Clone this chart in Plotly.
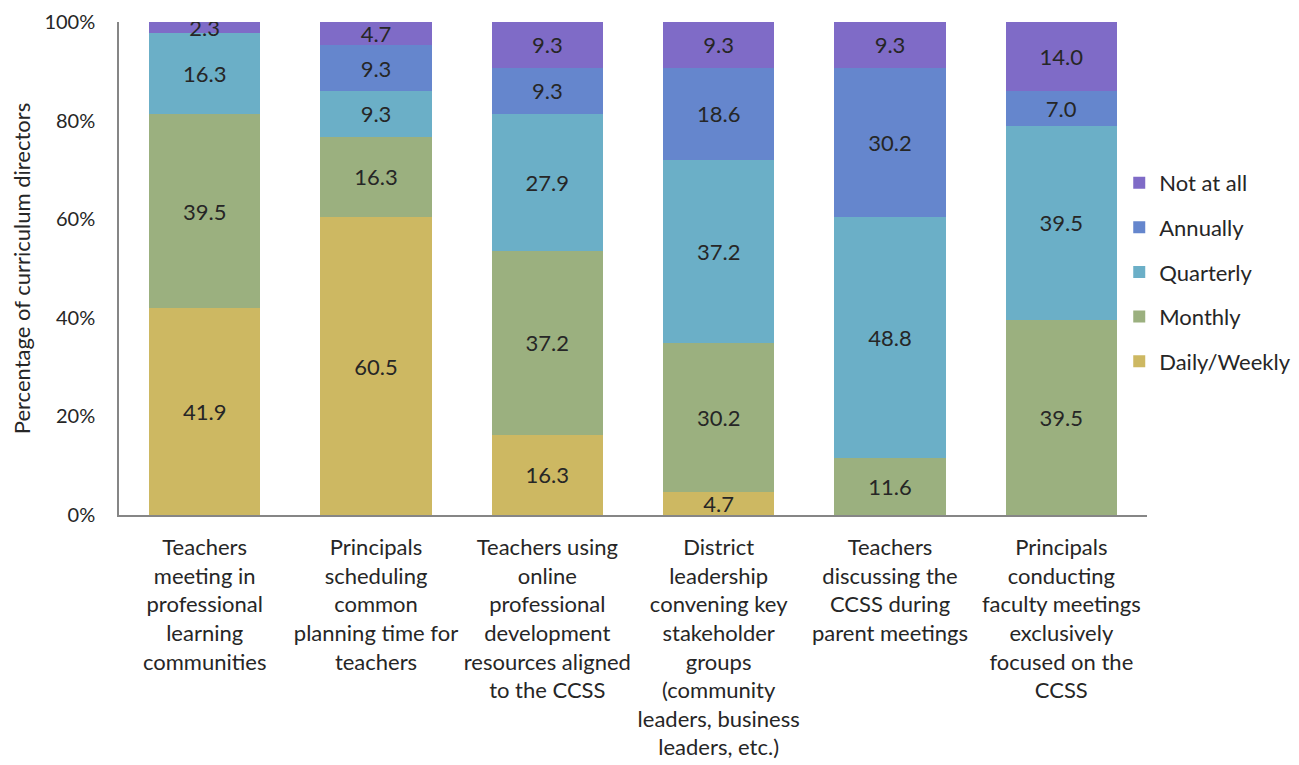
import plotly.graph_objects as go

categories = [
    "Teachers<br>meeting in<br>professional<br>learning<br>communities",
    "Principals<br>scheduling<br>common<br>planning time for<br>teachers",
    "Teachers using<br>online<br>professional<br>development<br>resources aligned<br>to the CCSS",
    "District<br>leadership<br>convening key<br>stakeholder<br>groups<br>(community<br>leaders, business<br>leaders, etc.)",
    "Teachers<br>discussing the<br>CCSS during<br>parent meetings",
    "Principals<br>conducting<br>faculty meetings<br>exclusively<br>focused on the<br>CCSS",
]

daily_weekly = [41.9, 60.5, 16.3, 4.7, None, None]
monthly = [39.5, 16.3, 37.2, 30.2, 11.6, 39.5]
quarterly = [16.3, 9.3, 27.9, 37.2, 48.8, 39.5]
annually = [None, 9.3, 9.3, 18.6, 30.2, 7.0]
not_at_all = [2.3, 4.7, 9.3, 9.3, 9.3, 14.0]

y_ticks = [0, 20, 40, 60, 80, 100]
y_tick_labels = ["0%", "20%", "40%", "60%", "80%", "100%"]

series = [
    ("Daily/Weekly", daily_weekly, "#CDB862"),
    ("Monthly", monthly, "#9BB07F"),
    ("Quarterly", quarterly, "#6BAFC7"),
    ("Annually", annually, "#6586CD"),
    ("Not at all", not_at_all, "#7F6BC7"),
]

FONT = "Lato, 'Open Sans', sans-serif"
TXT = "#262626"

fig = go.Figure()
for i, (name, vals, color) in enumerate(series):
    fig.add_trace(go.Bar(
        x=list(range(len(categories))),
        y=vals,
        name=name,
        legendgroup=name,
        legendrank=1000 - i,
        marker=dict(color=color, line=dict(width=0)),
        text=[None if v is None else f"{v:.1f}" for v in vals],
        textposition="inside",
        insidetextanchor="middle",
        constraintext="none",
        textangle=0,
        textfont=dict(family=FONT, size=22, color=TXT),
        hoverinfo="name+y",
    ))

fig.update_layout(
    barmode="stack",
    barnorm="percent",
    bargap=0.35,
    width=1291,
    height=757,
    margin=dict(l=111, r=152, t=14, b=250, autoexpand=False),
    paper_bgcolor="white",
    plot_bgcolor="white",
    font=dict(family=FONT, size=22, color=TXT),
    legend=dict(
        traceorder="grouped",
        tracegroupgap=13,
        x=0.973, xanchor="left",
        y=0.493, yanchor="middle",
        font=dict(family=FONT, size=22, color=TXT),
        itemwidth=30,
        bgcolor="rgba(0,0,0,0)",
    ),
    xaxis=dict(
        tickmode="array",
        tickvals=list(range(len(categories))),
        ticktext=categories,
        range=[-0.5, len(categories) - 0.5],
        showline=True,
        linecolor="#868686",
        linewidth=1.5,
        ticks="",
        tickangle=0,
        tickfont=dict(family=FONT, size=22, color=TXT),
        ticklabelstandoff=12,
        showgrid=False,
        zeroline=False,
        automargin=False,
    ),
    yaxis=dict(
        range=[0, 100],
        tickmode="array",
        tickvals=y_ticks,
        ticktext=y_tick_labels,
        showline=True,
        linecolor="#868686",
        linewidth=1.5,
        ticks="",
        ticklabelstandoff=18,
        ticklabeloverflow="allow",
        showgrid=False,
        zeroline=False,
        automargin=False,
        tickfont=dict(family=FONT, size=20, color=TXT),
        title=dict(text="Percentage of curriculum directors",
                   font=dict(family=FONT, size=22, color=TXT),
                   standoff=12),
    ),
)

fig.write_html("out.html")
